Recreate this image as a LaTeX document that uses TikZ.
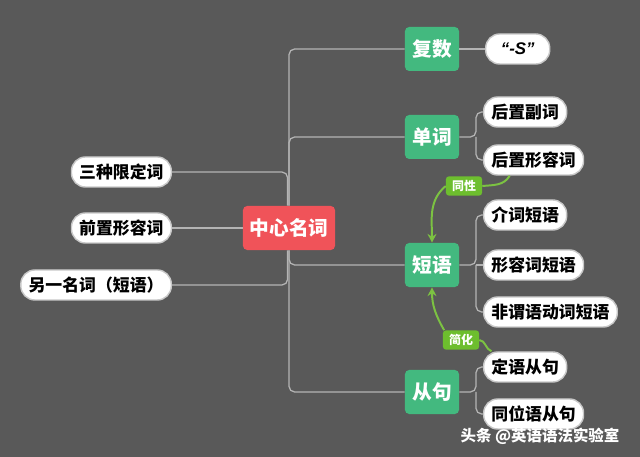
\documentclass[tikz,border=0pt]{standalone}
\usepackage{fontspec}
\setmainfont{Noto Sans CJK SC}
\newfontfamily\latinfont{Liberation Sans}
\usepackage{xcolor}
\usetikzlibrary{arrows.meta, positioning}
\definecolor{map_bg}{HTML}{595959}
\definecolor{map_line}{HTML}{B4B4B4}
\definecolor{map_red}{HTML}{F05359}
\definecolor{map_green}{HTML}{43B97F}
\definecolor{map_lime}{HTML}{6DBE2E}
\definecolor{map_arrow}{HTML}{7CC242}
\definecolor{map_rim}{HTML}{C8C8C8}

\begin{document}
\begin{tikzpicture}[
        x=0.025cm, y=-0.025cm,
        root/.style={rectangle, rounded corners=3pt, fill=map_red, text=white, minimum width=2.3cm, minimum height=1.1cm, font=\fontsize{14}{16}\selectfont\bfseries},
        topic/.style={rectangle, rounded corners=3pt, fill=map_green, text=white, minimum width=1.35cm, minimum height=1.1cm, font=\fontsize{14}{16}\selectfont\bfseries},
        leaf/.style={rectangle, rounded corners=0.35cm, draw=map_rim, line width=1pt, fill=white, text=black, minimum height=0.75cm, inner xsep=5.5pt, font=\fontsize{12}{14}\selectfont\bfseries},
        tag/.style={rectangle, rounded corners=2pt, fill=map_lime, text=white, minimum width=0.9cm, minimum height=0.48cm, inner sep=1pt, font=\fontsize{8.5}{10}\selectfont\bfseries},
        branch/.style={draw=map_line, line width=0.9pt, rounded corners=4pt},
        rel/.style={draw=map_arrow, line width=1.4pt},
        rel_arrow/.style={rel, -{Stealth[length=2.2mm, width=2.2mm]}},
    ]
        % Background
        \fill[map_bg] (0,0) rectangle (640,457);

        % Root
        \node[root] (zhongxin) at (289,228) {中心名词};

        % Left leaves
        \node[leaf, anchor=east] (sanzhong) at (172,172) {三种限定词};
        \node[leaf, anchor=east] (qianzhi) at (172,228) {前置形容词};
        \node[leaf, anchor=east] (lingyi) at (172,285) {另一名词（短语）};

        % Topics
        \node[topic] (fushu) at (432,49) {复数};
        \node[topic] (danci) at (432,137) {单词};
        \node[topic] (duanyu) at (432,265) {短语};
        \node[topic] (congju) at (432,392) {从句};

        % Right leaves
        \node[leaf, anchor=west, minimum width=1.6cm] (suffix) at (485,49) {\latinfont\bfseries\itshape “-S”};
        \node[leaf, anchor=west] (fuci) at (483,112) {后置副词};
        \node[leaf, anchor=west] (houxing) at (483,160) {后置形容词};
        \node[leaf, anchor=west] (jieci) at (483,215) {介词短语};
        \node[leaf, anchor=west] (xingrong) at (483,265) {形容词短语};
        \node[leaf, anchor=west] (feiwei) at (483,312) {非谓语动词短语};
        \node[leaf, anchor=west] (dingyu) at (483,367) {定语从句};
        \node[leaf, anchor=west] (tongwei) at (483,414) {同位语从句};

        % Tags
        \node[tag] (tongxing) at (464,186) {同性};
        \node[tag] (jianhua) at (461,340) {简化};

        % Junctions
        \coordinate (danci_j) at (476,137);
        \coordinate (duanyu_j) at (476,265);
        \coordinate (congju_j) at (476,392);

        % Root branches
        \draw[branch] (zhongxin.north) |- (fushu.west);
        \draw[branch] (zhongxin.north) |- (danci.west);
        \draw[branch] (zhongxin.south) |- (duanyu.west);
        \draw[branch] (zhongxin.south) |- (congju.west);
        \draw[branch] (sanzhong.east) -| ([xshift=-1pt]zhongxin.north);
        \draw[branch] (qianzhi.east) -- (zhongxin.west);
        \draw[branch] (lingyi.east) -| ([xshift=-1pt]zhongxin.south);

        % Topic branches
        \draw[branch] (fushu.east) -- (suffix.west);
        \draw[branch] (danci.east) -- (danci_j) |- (fuci.west);
        \draw[branch] (danci_j) |- (houxing.west);
        \draw[branch] (duanyu.east) -- (duanyu_j) |- (jieci.west);
        \draw[branch] (duanyu_j) |- (feiwei.west);
        \draw[branch] (duanyu_j) -- (xingrong.west);
        \draw[branch] (congju.east) -- (congju_j) |- (dingyu.west);
        \draw[branch] (congju_j) |- (tongwei.west);

        % Relations
        \draw[rel] ([xshift=-17]houxing.south) to[out=-120, in=5] (tongxing.east);
        \draw[rel_arrow] (tongxing.west) to[out=-140, in=90] (duanyu.north);
        \draw[rel] ([xshift=-24]dingyu.north) to[out=160, in=-5] (jianhua.east);
        \draw[rel_arrow] ([xshift=-12]jianhua.north) to[out=120, in=-90] (duanyu.south);

        % Watermark
        \node[text=white, font=\fontsize{11}{13}\selectfont\bfseries] (mark) at (540,436) {头条 @英语语法实验室};
    \end{tikzpicture}
\end{document}
